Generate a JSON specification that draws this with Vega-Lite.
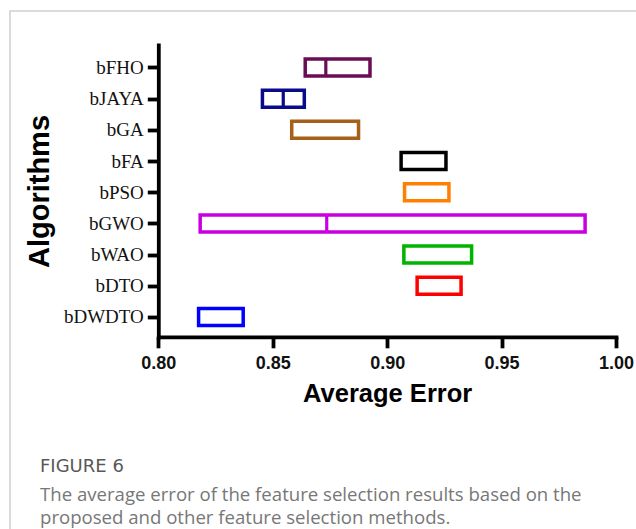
{
  "$schema": "https://vega.github.io/schema/vega-lite/v6.json",
  "autosize": "none",
  "padding": {"left": 10, "top": 11, "right": 0, "bottom": 0},
  "width": 640,
  "height": 530,
  "background": "white",
  "config": {
    "view": {"stroke": "#cfcfcf", "strokeWidth": 1.5},
    "axis": {"grid": false}
  },
  "title": {
    "text": "FIGURE 6",
    "subtitle": ["The average error of the feature selection results based on the", "proposed and other feature selection methods."],
    "orient": "bottom",
    "anchor": "start",
    "frame": "group",
    "offset": -83,
    "dx": 30,
    "font": "DejaVu Sans",
    "fontSize": 18,
    "fontWeight": "normal",
    "color": "#585858",
    "subtitleFont": "Open Sans",
    "subtitleFontSize": 18.6,
    "subtitleColor": "#777777",
    "subtitleLineHeight": 23,
    "subtitlePadding": 10
  },
  "data": {
    "values": [
      {"alg": "bFHO", "lo": 0.8642, "hi": 0.8925, "med": 0.8732},
      {"alg": "bJAYA", "lo": 0.8455, "hi": 0.8638, "med": 0.8546},
      {"alg": "bGA", "lo": 0.8583, "hi": 0.8875, "med": null},
      {"alg": "bFA", "lo": 0.9061, "hi": 0.9257, "med": null},
      {"alg": "bPSO", "lo": 0.9076, "hi": 0.9270, "med": null},
      {"alg": "bGWO", "lo": 0.8183, "hi": 0.9865, "med": 0.8736},
      {"alg": "bWAO", "lo": 0.9073, "hi": 0.9369, "med": null},
      {"alg": "bDTO", "lo": 0.9131, "hi": 0.9323, "med": null},
      {"alg": "bDWDTO", "lo": 0.8176, "hi": 0.8371, "med": null}
    ]
  },
  "encoding": {
    "y": {
      "field": "alg",
      "type": "nominal",
      "sort": null,
      "scale": {
        "type": "point",
        "domain": ["bFHO", "bJAYA", "bGA", "bFA", "bPSO", "bGWO", "bWAO", "bDTO", "bDWDTO"],
        "range": [34, 326],
        "padding": 0.681,
        "align": 0.529
      },
      "axis": {
        "title": "Algorithms",
        "offset": -148.3,
        "domainColor": "black",
        "domainWidth": 3.8,
        "domainCap": "square",
        "tickColor": "black",
        "tickWidth": 3.8,
        "tickSize": 11,
        "labelFont": "Liberation Serif",
        "labelFontSize": 19,
        "labelColor": "#111",
        "labelPadding": 4,
        "titleFont": "Liberation Sans",
        "titleFontSize": 29,
        "titleFontWeight": "bold",
        "titleColor": "black",
        "titlePadding": 9
      }
    },
    "color": {
      "field": "alg",
      "type": "nominal",
      "legend": null,
      "scale": {
        "domain": ["bFHO", "bJAYA", "bGA", "bFA", "bPSO", "bGWO", "bWAO", "bDTO", "bDWDTO"],
        "range": ["#6a0d54", "#0a0a8a", "#a5611a", "#000000", "#ff8000", "#c800e0", "#00b400", "#ff0000", "#0000ff"]
      }
    }
  },
  "layer": [
    {
      "mark": {"type": "bar", "size": 17, "fill": "white", "strokeWidth": 3.5, "strokeJoin": "miter"},
      "encoding": {
        "x": {
          "field": "lo",
          "type": "quantitative",
          "scale": {"domain": [0.8, 1.0], "range": [148.3, 606], "nice": false, "zero": false},
          "axis": {
            "title": "Average Error",
            "offset": -204.2,
            "values": [0.8, 0.85, 0.9, 0.95, 1.0],
            "format": ".2f",
            "labelFlush": false,
            "labelOverlap": false,
            "domainColor": "black",
            "domainWidth": 3.8,
            "domainCap": "square",
            "tickColor": "black",
            "tickWidth": 3.8,
            "tickSize": 11,
            "labelFont": "Liberation Sans",
            "labelFontSize": 18,
            "labelFontWeight": "bold",
            "labelColor": "#111",
            "labelPadding": 7,
            "titleFont": "Liberation Sans",
            "titleFontSize": 25.5,
            "titleFontWeight": "bold",
            "titleColor": "black",
            "titlePadding": 9
          }
        },
        "x2": {"field": "hi"},
        "stroke": {"field": "alg", "type": "nominal", "legend": null, "scale": {
          "domain": ["bFHO", "bJAYA", "bGA", "bFA", "bPSO", "bGWO", "bWAO", "bDTO", "bDWDTO"],
          "range": ["#6a0d54", "#0a0a8a", "#a5611a", "#000000", "#ff8000", "#c800e0", "#00b400", "#ff0000", "#0000ff"]
        }}
      }
    },
    {
      "transform": [{"filter": "datum.med != null"}],
      "mark": {"type": "tick", "size": 17, "thickness": 3.2, "opacity": 1},
      "encoding": {
        "x": {"field": "med", "type": "quantitative"}
      }
    }
  ]
}
